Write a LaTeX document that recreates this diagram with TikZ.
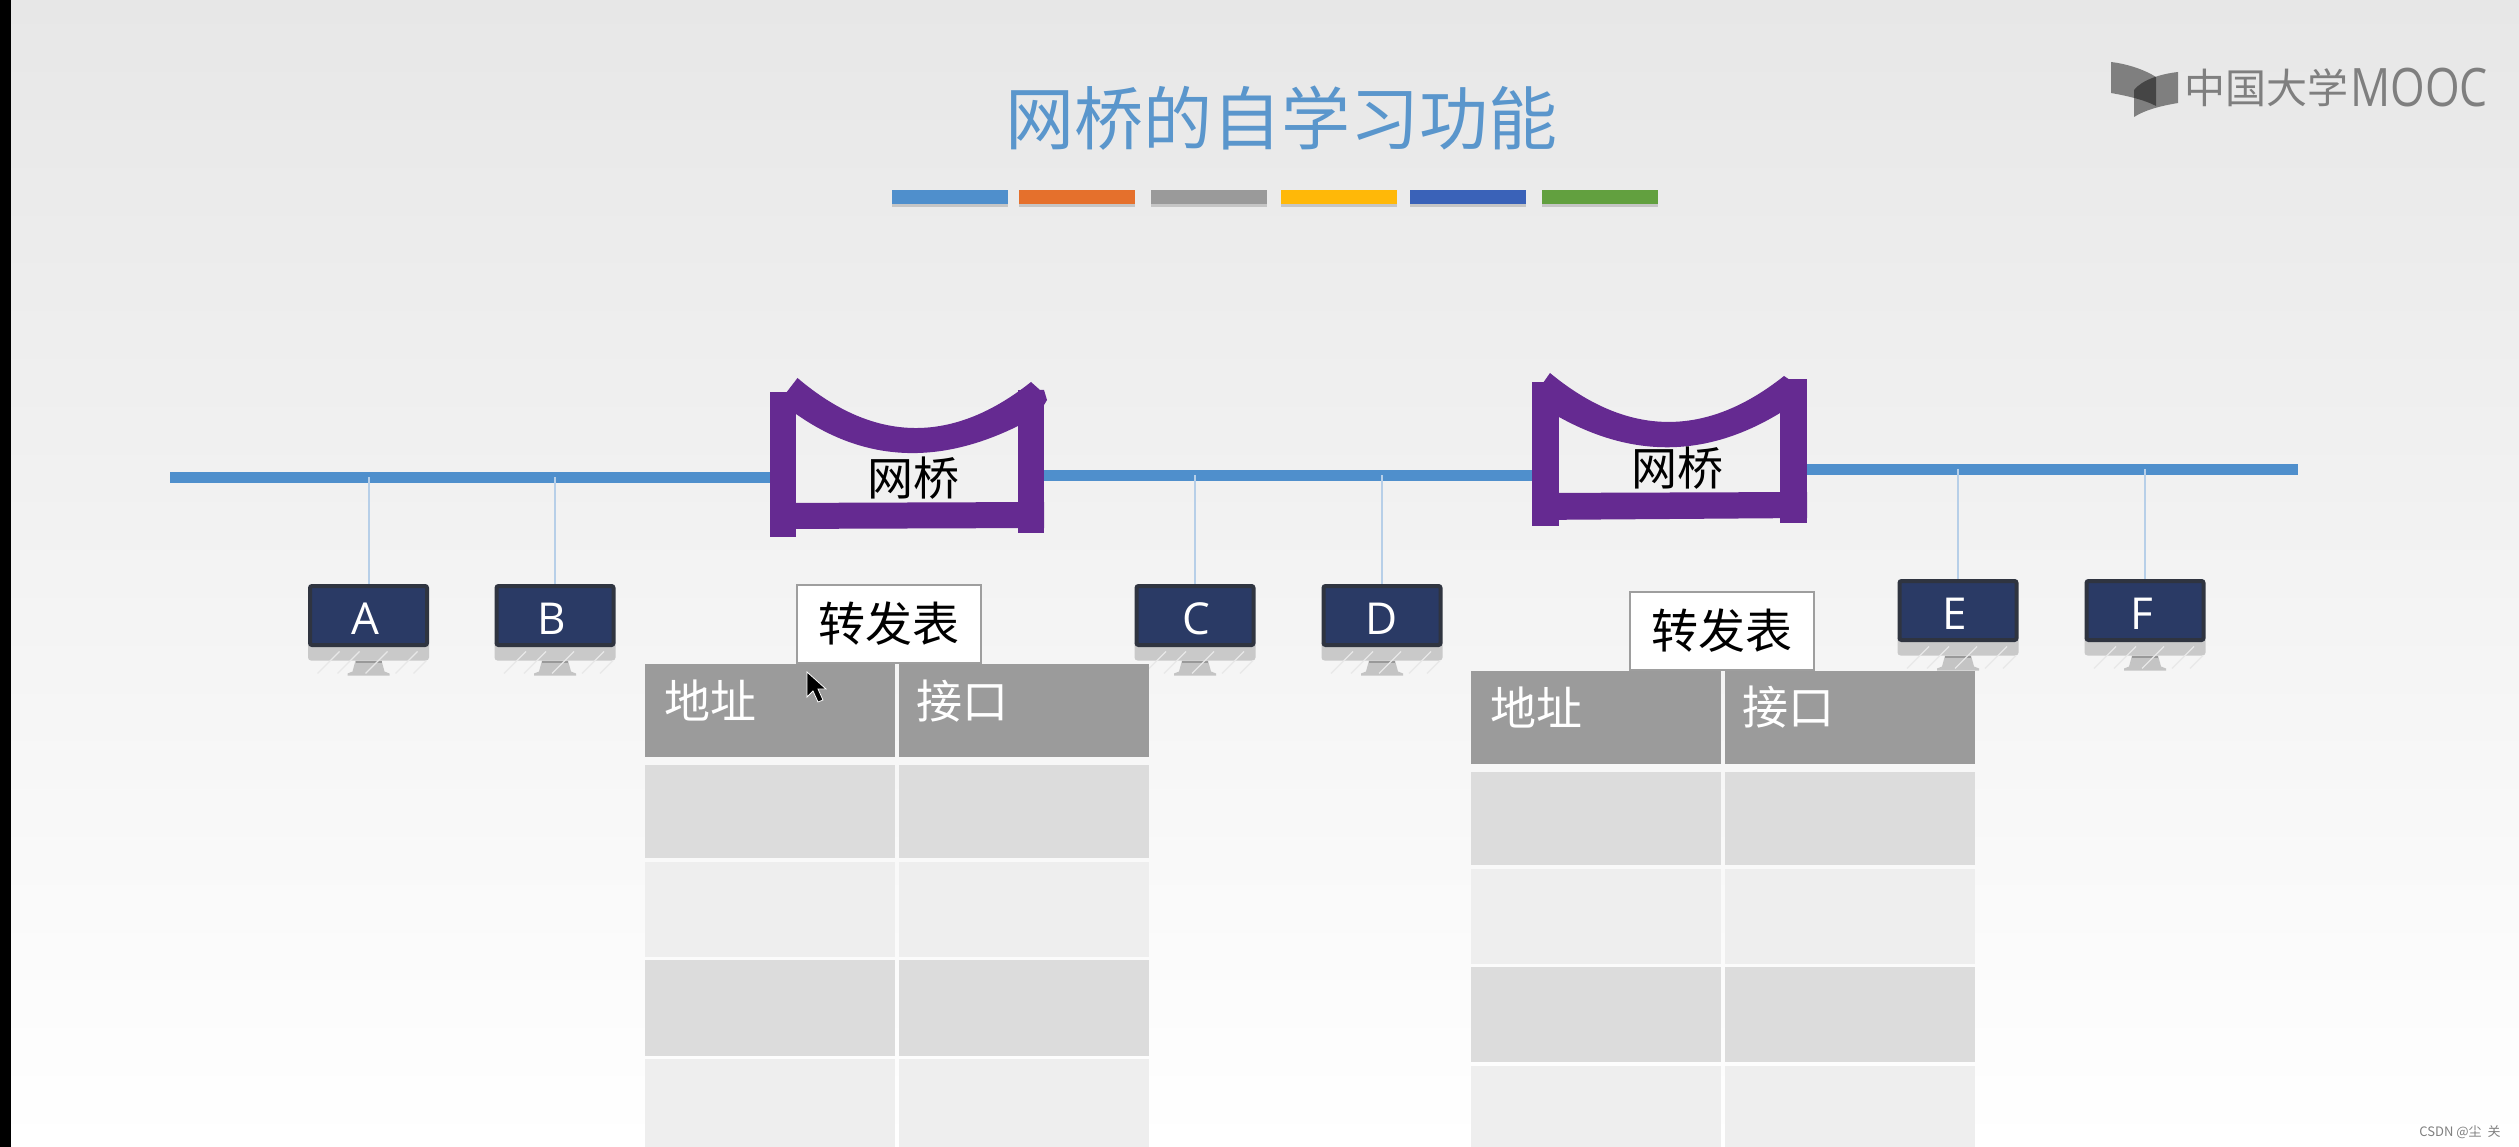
\documentclass[tikz,border=0pt]{standalone}
\usepackage{fontspec}
\setmainfont{Noto Sans CJK SC}
\newfontfamily\latinfont{Open Sans}
\usetikzlibrary{shadows}
\definecolor{bgTop}{HTML}{E7E7E7}
\definecolor{bgMid}{HTML}{F6F6F6}
\definecolor{busBlue}{HTML}{4F8FCC}
\definecolor{dropBlue}{HTML}{B7CFE8}
\definecolor{titleBlue}{HTML}{5A96CC}
\definecolor{bridgePurple}{HTML}{652A91}
\definecolor{screenNavy}{HTML}{2A3A65}
\definecolor{screenEdge}{HTML}{2F3440}
\definecolor{headGray}{HTML}{9B9B9B}
\definecolor{rowDark}{HTML}{DCDCDC}
\definecolor{rowLight}{HTML}{EEEEEE}
\definecolor{logoGray}{HTML}{7F7F7F}
\definecolor{barOrange}{HTML}{E5702C}
\definecolor{barGray}{HTML}{9A9A9A}
\definecolor{barYellow}{HTML}{FFB808}
\definecolor{barBlue}{HTML}{3A62B8}
\definecolor{barGreen}{HTML}{62A03F}
\tikzset{
    EMPTY/.style={inner sep=0pt, minimum size=0pt, outer sep=0pt},
    BUS_EDGE/.style={draw=busBlue, line width=11pt},
    DROP_EDGE/.style={draw=dropBlue, line width=2pt},
    BRIDGE_FILL/.style={fill=bridgePurple, draw=none},
    BAR/.style={minimum width=116pt, minimum height=14pt, inner sep=0pt,
        drop shadow={shadow xshift=0pt, shadow yshift=-3pt, opacity=0.35}},
    SCREEN/.style={fill=screenNavy, draw=screenEdge, line width=4pt, rounded corners=2pt,
        minimum width=117pt, minimum height=59pt, inner sep=0pt},
    SCREEN_TEXT/.style={text=white, inner sep=0pt, font={\latinfont\fontsize{44}{44}\selectfont}},
    CELL/.style={inner sep=0pt, minimum width=250pt},
    HEAD_CELL/.style={CELL, fill=headGray, minimum height=93pt},
    DARK_CELL/.style={CELL, fill=rowDark},
    LIGHT_CELL/.style={CELL, fill=rowLight},
    HEAD_TEXT/.style={text=white, inner sep=0pt, font={\fontsize{46}{46}\selectfont}},
    TABLE_BOX/.style={fill=white, draw=black!38, line width=2pt, minimum width=184pt,
        minimum height=78pt, inner sep=0pt, font={\fontsize{47}{47}\selectfont}},
    BRIDGE_TEXT/.style={inner sep=0pt, font={\fontsize{46}{46}\selectfont}},
    TITLE/.style={text=titleBlue, inner sep=0pt, font={\fontsize{69}{69}\selectfont}},
    LOGO_TEXT/.style={text=logoGray, inner sep=0pt}
}
\pgfdeclarelayer{edgelayer}
\pgfdeclarelayer{nodelayer}
\pgfsetlayers{edgelayer,nodelayer,main}
% #1 name, #2 x, #3 y, #4 letter, #5 letter offset
\newcommand{\MONITOR}[5]{
    \begin{scope}[shift={(#2,#3)}]
        \fill[black!21, rounded corners=3pt] (-60.5,25) rectangle (60.5,45);
        \fill[black!23] (-13,45) -- (13,45) -- (16,56) -- (21,58) -- (21,60) -- (-21,60) -- (-21,58) -- (-16,56) -- cycle;
        \fill[black!40] (-13,45) rectangle (13,47);
        \draw[black!9, line width=1.2pt] (-51,58) -- (-29,36) (-31,58) -- (-9,36) (-3,58) -- (19,36) (27,58) -- (49,36) (45,58) -- (58,45);
    \end{scope}
    \node [SCREEN] (#1) at (#2,#3) {};
    \node [SCREEN_TEXT] (#1text) at ([xshift=#5pt,yshift=-3pt]#1.center) {#4};
}

\begin{document}
\begin{tikzpicture}[x=1pt, y=-1pt]
    \useasboundingbox (0,0) rectangle (2519,1147);
    \begin{pgfonlayer}{nodelayer}
        \node [TITLE] (title) at (1281,118) {网桥的自学习功能};
        \node [BAR, fill=busBlue] (bar1) at (949.5,197) {};
        \node [BAR, fill=barOrange] (bar2) at (1076.5,197) {};
        \node [BAR, fill=barGray] (bar3) at (1208.5,197) {};
        \node [BAR, fill=barYellow] (bar4) at (1338.5,197) {};
        \node [BAR, fill=barBlue] (bar5) at (1467.5,197) {};
        \node [BAR, fill=barGreen] (bar6) at (1599.5,197) {};

        % logo
        \fill[black, opacity=0.45] (2111,62) .. controls (2128,64) and (2145,70) .. (2156,77) -- (2156,106) .. controls (2145,100) and (2128,96) .. (2111,93) -- cycle;
        \fill[black, opacity=0.45] (2178,72) .. controls (2160,74) and (2142,80) .. (2134,90) -- (2134,117) .. controls (2145,110) and (2160,106) .. (2178,103) -- cycle;
        \node [LOGO_TEXT, font={\fontsize{41}{41}\selectfont}] (logo1) at (2266,88) {中国大学};
        \node [LOGO_TEXT, xscale=0.84, font={\latinfont\fontsize{53}{53}\selectfont}] (logo2) at (2419,88) {MOOC};

        % bridges
        \fill[BRIDGE_FILL] (770,392) rectangle (796,537);
        \fill[BRIDGE_FILL] (1018,390) rectangle (1044,533);
        \fill[BRIDGE_FILL] (770,503) -- (1044,502) -- (1044,528) -- (770,529) -- cycle;
        \fill[BRIDGE_FILL] (786,393) -- (797.5,378) .. controls (875,444) and (953,444) .. (1031,382) -- (1040,390) -- (1044,390) -- (1047,400) -- (1044,405) -- (1018,426) .. controls (945,462) and (870,466) .. (796,414) -- cycle;
        \node [BRIDGE_TEXT] (bridgeText1) at (913.5,478) {网桥};
        \fill[BRIDGE_FILL] (1532,382) rectangle (1559,526);
        \fill[BRIDGE_FILL] (1780,379) rectangle (1807,523);
        \fill[BRIDGE_FILL] (1532,493) -- (1807,492) -- (1807,518) -- (1532,520) -- cycle;
        \fill[BRIDGE_FILL] (1543,383) -- (1550,373) .. controls (1628,437.5) and (1706,438) .. (1784,376) -- (1790,380) -- (1780,413) .. controls (1706,458) and (1633,458) .. (1559,417) -- cycle;
        \node [BRIDGE_TEXT] (bridgeText2) at (1677,468) {网桥};

        % ends and tap points of the three bus segments
        \node [EMPTY] (busA) at (170,477) {};
        \node [EMPTY] (tapA) at (368.5,477) {};
        \node [EMPTY] (tapB) at (555,477) {};
        \node [EMPTY] (busB) at (771,477) {};
        \node [EMPTY] (busC) at (1043,475) {};
        \node [EMPTY] (tapC) at (1195,475) {};
        \node [EMPTY] (tapD) at (1382,475) {};
        \node [EMPTY] (busD) at (1533,475) {};
        \node [EMPTY] (busE) at (1806,469) {};
        \node [EMPTY] (tapE) at (1958,469) {};
        \node [EMPTY] (tapF) at (2145,469) {};
        \node [EMPTY] (busF) at (2298,469) {};

        \MONITOR{A}{368.5}{615.5}{A}{-3}
        \MONITOR{B}{555}{615.5}{B}{-3}
        \MONITOR{C}{1195}{615.5}{C}{1}
        \MONITOR{D}{1382}{615.5}{D}{0}
        \MONITOR{E}{1958}{610.5}{E}{-3}
        \MONITOR{F}{2145}{610.5}{F}{-3}

        % first table
        \node [HEAD_CELL] (h11) at (770,710.5) {};
        \node [HEAD_CELL] (h12) at (1024,710.5) {};
        \node [DARK_CELL, minimum height=93pt] (r11) at (770,811.5) {};
        \node [DARK_CELL, minimum height=93pt] (r12) at (1024,811.5) {};
        \node [LIGHT_CELL, minimum height=95pt] (r21) at (770,909.5) {};
        \node [LIGHT_CELL, minimum height=95pt] (r22) at (1024,909.5) {};
        \node [DARK_CELL, minimum height=96pt] (r31) at (770,1008) {};
        \node [DARK_CELL, minimum height=96pt] (r32) at (1024,1008) {};
        \node [LIGHT_CELL, minimum height=88pt] (r41) at (770,1103) {};
        \node [LIGHT_CELL, minimum height=88pt] (r42) at (1024,1103) {};
        \node [HEAD_TEXT] (addr1) at (710,700) {地址};
        \node [HEAD_TEXT] (port1) at (962,701) {接口};
        \node [TABLE_BOX] (box1) at (888.5,623.5) {转发表};

        % second table
        \node [HEAD_CELL] (h21) at (1596,717.5) {};
        \node [HEAD_CELL] (h22) at (1850,717.5) {};
        \node [DARK_CELL, minimum height=93pt] (s11) at (1596,818.5) {};
        \node [DARK_CELL, minimum height=93pt] (s12) at (1850,818.5) {};
        \node [LIGHT_CELL, minimum height=95pt] (s21) at (1596,916.5) {};
        \node [LIGHT_CELL, minimum height=95pt] (s22) at (1850,916.5) {};
        \node [DARK_CELL, minimum height=95pt] (s31) at (1596,1014.5) {};
        \node [DARK_CELL, minimum height=95pt] (s32) at (1850,1014.5) {};
        \node [LIGHT_CELL, minimum height=81pt] (s41) at (1596,1106.5) {};
        \node [LIGHT_CELL, minimum height=81pt] (s42) at (1850,1106.5) {};
        \node [HEAD_TEXT] (addr2) at (1536,707) {地址};
        \node [HEAD_TEXT] (port2) at (1788,707) {接口};
        \node [TABLE_BOX] (box2) at (1722,631) {转发表};

        % pointer
        \filldraw[fill=black, draw=white, line width=0.8pt] (807,672) -- (807,697) -- (813,691) -- (818,702) -- (823,700) -- (818,689) -- (826,689) -- cycle;

        \node [inner sep=0pt, text=black!50, font={\fontsize{13}{13}\selectfont}] (mark) at (2460,1132) {CSDN @尘\ \ 关};
    \end{pgfonlayer}
    \begin{pgfonlayer}{edgelayer}
        \shade[top color=bgTop, middle color=bgMid, bottom color=white] (0,0) rectangle (2519,1147);
        \fill[black] (0,0) rectangle (11,1147);
        \draw[BUS_EDGE] (busA) to (tapA);
        \draw[BUS_EDGE] (tapA) to (tapB);
        \draw[BUS_EDGE] (tapB) to (busB);
        \draw[BUS_EDGE] (busC) to (tapC);
        \draw[BUS_EDGE] (tapC) to (tapD);
        \draw[BUS_EDGE] (tapD) to (busD);
        \draw[BUS_EDGE] (busE) to (tapE);
        \draw[BUS_EDGE] (tapE) to (tapF);
        \draw[BUS_EDGE] (tapF) to (busF);
        \draw[DROP_EDGE] (tapA) to (A);
        \draw[DROP_EDGE] (tapB) to (B);
        \draw[DROP_EDGE] (tapC) to (C);
        \draw[DROP_EDGE] (tapD) to (D);
        \draw[DROP_EDGE] (tapE) to (E);
        \draw[DROP_EDGE] (tapF) to (F);
    \end{pgfonlayer}
\end{tikzpicture}
\end{document}
